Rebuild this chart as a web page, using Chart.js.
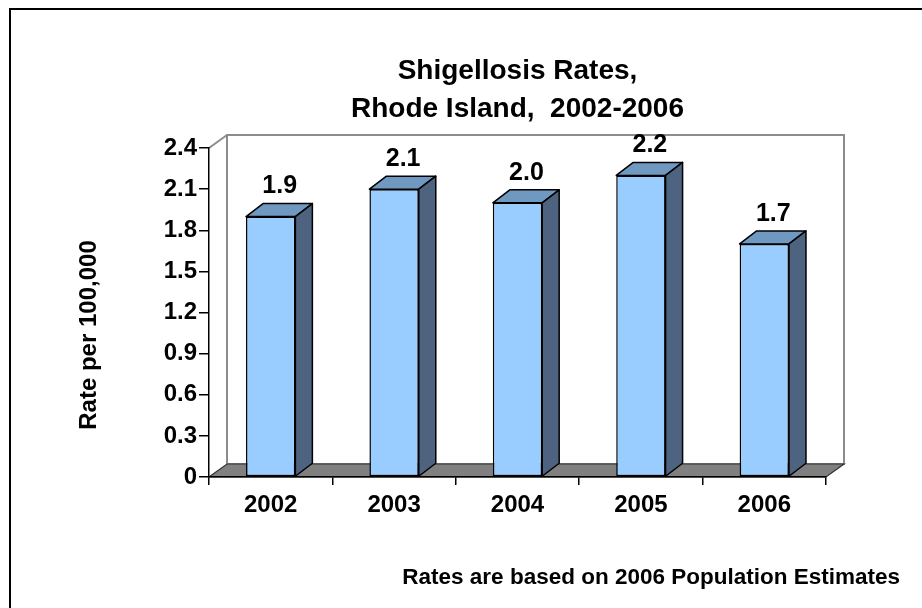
<!DOCTYPE html>
<html>
<head>
<meta charset="utf-8">
<script src="https://cdn.jsdelivr.net/npm/chart.js@4"></script>
<style>
  body { margin: 0; background: #fff; }
  canvas { display: block; }
</style>
</head>
<body>
<canvas id="myChart" width="922" height="608"></canvas>
<script>
var years = ['2002', '2003', '2004', '2005', '2006'];
var rates = [1.9, 2.1, 2.0, 2.2, 1.7];
var yTickLabels = ['0', '0.3', '0.6', '0.9', '1.2', '1.5', '1.8', '2.1', '2.4'];
var titleLines = ['Shigellosis Rates,', 'Rhode Island,  2002-2006'];
var yTitle = 'Rate per 100,000';
var footnote = 'Rates are based on 2006 Population Estimates';

var FONT = '"Liberation Sans", Arial, sans-serif';
var DX = 18, DY = -13;   // depth of the walls / floor
var BDX = 17, BDY = -13; // depth of the columns

function poly(ctx, pts, fill, stroke, lw) {
    ctx.beginPath();
    ctx.moveTo(pts[0][0], pts[0][1]);
    for (var i = 1; i < pts.length; i++) ctx.lineTo(pts[i][0], pts[i][1]);
    ctx.closePath();
    if (fill) { ctx.fillStyle = fill; ctx.fill(); }
    if (stroke) { ctx.strokeStyle = stroke; ctx.lineWidth = lw; ctx.stroke(); }
}

var chart3d = {
    id: 'chart3d',
    beforeDraw: function (chart) {
        var ctx = chart.ctx, a = chart.chartArea;
        ctx.save();
        // outer frame (only top and left edges are inside the picture)
        ctx.strokeStyle = '#000';
        ctx.lineWidth = 2;
        ctx.strokeRect(10, 9, 1000, 1000);
        // back wall
        ctx.fillStyle = '#fff';
        ctx.fillRect(a.left + DX, a.top + DY, a.right - a.left, a.bottom - a.top);
        ctx.strokeStyle = '#8c8c8c';
        ctx.lineWidth = 2;
        ctx.strokeRect(a.left + DX, a.top + DY, a.right - a.left, a.bottom - a.top);
        // left wall top edge
        ctx.beginPath();
        ctx.moveTo(a.left, a.top);
        ctx.lineTo(a.left + DX, a.top + DY);
        ctx.stroke();
        // floor
        poly(ctx, [[a.left, a.bottom], [a.right, a.bottom], [a.right + DX, a.bottom + DY], [a.left + DX, a.bottom + DY]],
            '#808080', '#333', 1.2);
        ctx.restore();
    },
    afterDatasetsDraw: function (chart) {
        var ctx = chart.ctx;
        var meta = chart.getDatasetMeta(0);
        ctx.save();
        ctx.lineJoin = 'round';
        meta.data.forEach(function (bar, i) {
            var p = bar.getProps(['x', 'y', 'base', 'width'], true);
            var l = p.x - p.width / 2, r = p.x + p.width / 2, t = p.y, b = p.base;
            poly(ctx, [[l, t], [r, t], [r + BDX, t + BDY], [l + BDX, t + BDY]], '#7099c2', '#000', 1.5);
            poly(ctx, [[r, t], [r + BDX, t + BDY], [r + BDX, b + BDY], [r, b]], '#4d6380', '#000', 1.5);
            ctx.fillStyle = '#000';
            ctx.font = 'bold 25px ' + FONT;
            ctx.textAlign = 'center';
            ctx.textBaseline = 'middle';
            ctx.fillText(rates[i].toFixed(1), p.x + 9, t - 30);
        });
        ctx.restore();
    },
    afterDraw: function (chart) {
        var ctx = chart.ctx;
        ctx.save();
        ctx.fillStyle = '#000';
        // y axis title
        ctx.font = 'bold 24px ' + FONT;
        ctx.textAlign = 'center';
        ctx.textBaseline = 'middle';
        ctx.translate(89, 335);
        ctx.rotate(-Math.PI / 2);
        ctx.fillText(yTitle, 0, 0);
        ctx.setTransform(1, 0, 0, 1, 0, 0);
        // footnote
        ctx.font = 'bold 22.5px ' + FONT;
        ctx.textAlign = 'right';
        ctx.textBaseline = 'alphabetic';
        ctx.fillText(footnote, 900, 584);
        ctx.restore();
    }
};

var ctx = document.getElementById('myChart').getContext('2d');

var myChart = new Chart(ctx, {
    type: 'bar',
    data: {
        labels: years,
        datasets: [{
            data: rates,
            backgroundColor: '#99ccff',
            borderColor: '#000',
            borderWidth: 1.5,
            borderSkipped: false,
            categoryPercentage: 1,
            barPercentage: 0.4
        }]
    },
    options: {
        responsive: false,
        animation: false,
        layout: { padding: { top: 0, right: 96, bottom: 81, left: 0 } },
        plugins: {
            legend: { display: false },
            tooltip: { enabled: false },
            title: {
                display: true,
                text: titleLines,
                fullSize: false,
                color: '#000',
                font: { family: FONT, size: 28, weight: 'bold', lineHeight: 38 / 28 },
                padding: { top: 52, bottom: 20 }
            }
        },
        scales: {
            x: {
                afterFit: function (s) { s.height = 50; },
                grid: { drawOnChartArea: false, drawTicks: true, tickLength: 8, color: '#000', lineWidth: 1.5, offset: true },
                border: { display: true, color: '#000', width: 1.5 },
                ticks: { color: '#000', padding: 6, font: { family: FONT, size: 24, weight: 'bold' } }
            },
            y: {
                min: 0,
                max: 2.4,
                afterFit: function (s) { s.width = 209; },
                grid: { drawOnChartArea: false, drawTicks: true, tickLength: 10, color: '#000', lineWidth: 1.5 },
                border: { display: true, color: '#000', width: 1.5 },
                ticks: {
                    stepSize: 0.3,
                    color: '#000',
                    padding: 2,
                    font: { family: FONT, size: 24, weight: 'bold' },
                    callback: function (value, index) { return yTickLabels[index]; }
                }
            }
        }
    },
    plugins: [chart3d]
});
</script>
</body>
</html>
